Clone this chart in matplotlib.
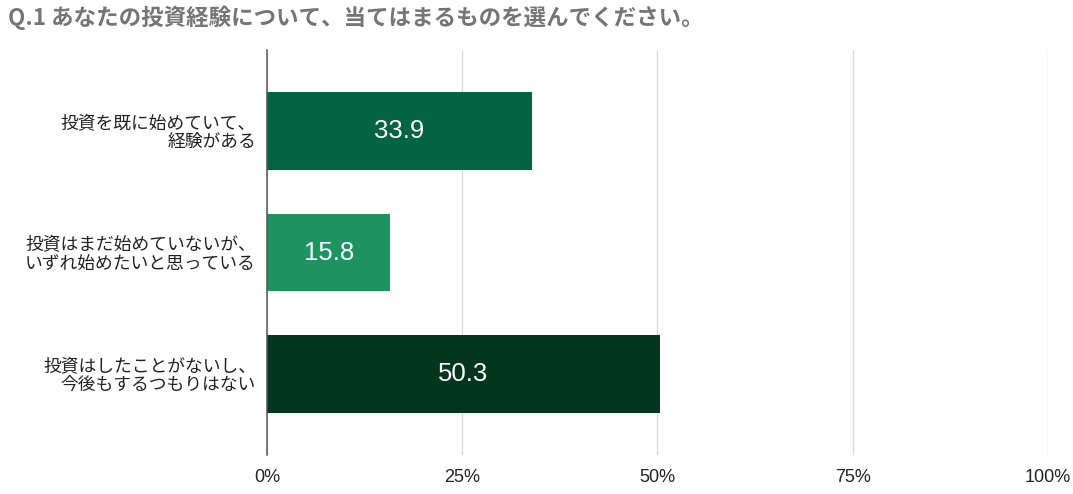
#!/usr/bin/env python

import matplotlib
matplotlib.use('Agg')
import matplotlib.pyplot as plt

plt.rcParams['font.family'] = ['Noto Sans CJK JP', 'DejaVu Sans']

title = 'Q.1 あなたの投資経験について、当てはまるものを選んでください。'
categories = ['投資を既に始めていて、\n経験がある',
              '投資はまだ始めていないが、\nいずれ始めたいと思っている',
              '投資はしたことがないし、\n今後もするつもりはない']
values = [33.9, 15.8, 50.3]
colors = ['#036342', '#1d9460', '#03361f']
xticks = [0, 25, 50, 75, 100]
xtick_labels = ['0%', '25%', '50%', '75%', '100%']


def create_plot():
	fig = plt.figure(figsize=(10.73, 4.94), dpi=100)
	ax = fig.add_axes([267 / 1073, 1 - 455 / 494, 781 / 1073, 405 / 494])

	pos = range(len(values))
	ax.barh(pos, values, height=0.64, color=colors, zorder=3)
	for p, v in zip(pos, values):
		ax.text(v / 2, p, '%.1f' % v, ha='center', va='center', color='white',
				fontsize=18.5, family=['Liberation Sans', 'DejaVu Sans'], zorder=4)

	ax.set_xlim(0, 100)
	ax.set_ylim(2.667, -0.667)
	ax.set_xticks(xticks)
	ax.set_xticklabels(xtick_labels, family=['Liberation Sans', 'DejaVu Sans'],
					   fontsize=13, color='#222222')
	ax.set_yticks(list(pos))
	ax.set_yticklabels(categories, fontsize=12.8, color='#222222', linespacing=1.0)
	ax.tick_params(axis='both', length=0)
	ax.tick_params(axis='x', pad=10)
	ax.tick_params(axis='y', pad=8)
	ax.grid(axis='x', color='#dadada', linewidth=1, zorder=0)
	for s in ['top', 'right', 'bottom']:
		ax.spines[s].set_visible(False)
	ax.spines['left'].set_color('#555555')
	ax.spines['left'].set_linewidth(1.1)
	ax.spines['left'].set_zorder(5)

	fig.text(8 / 1073, 1 - 18 / 494, title, ha='left', va='center',
			 fontsize=16.2, fontweight='bold', color='#757575')
	fig.savefig('out.png', dpi=100)
	plt.close(fig)


def main():
	create_plot()

if __name__ == '__main__':
	main()
